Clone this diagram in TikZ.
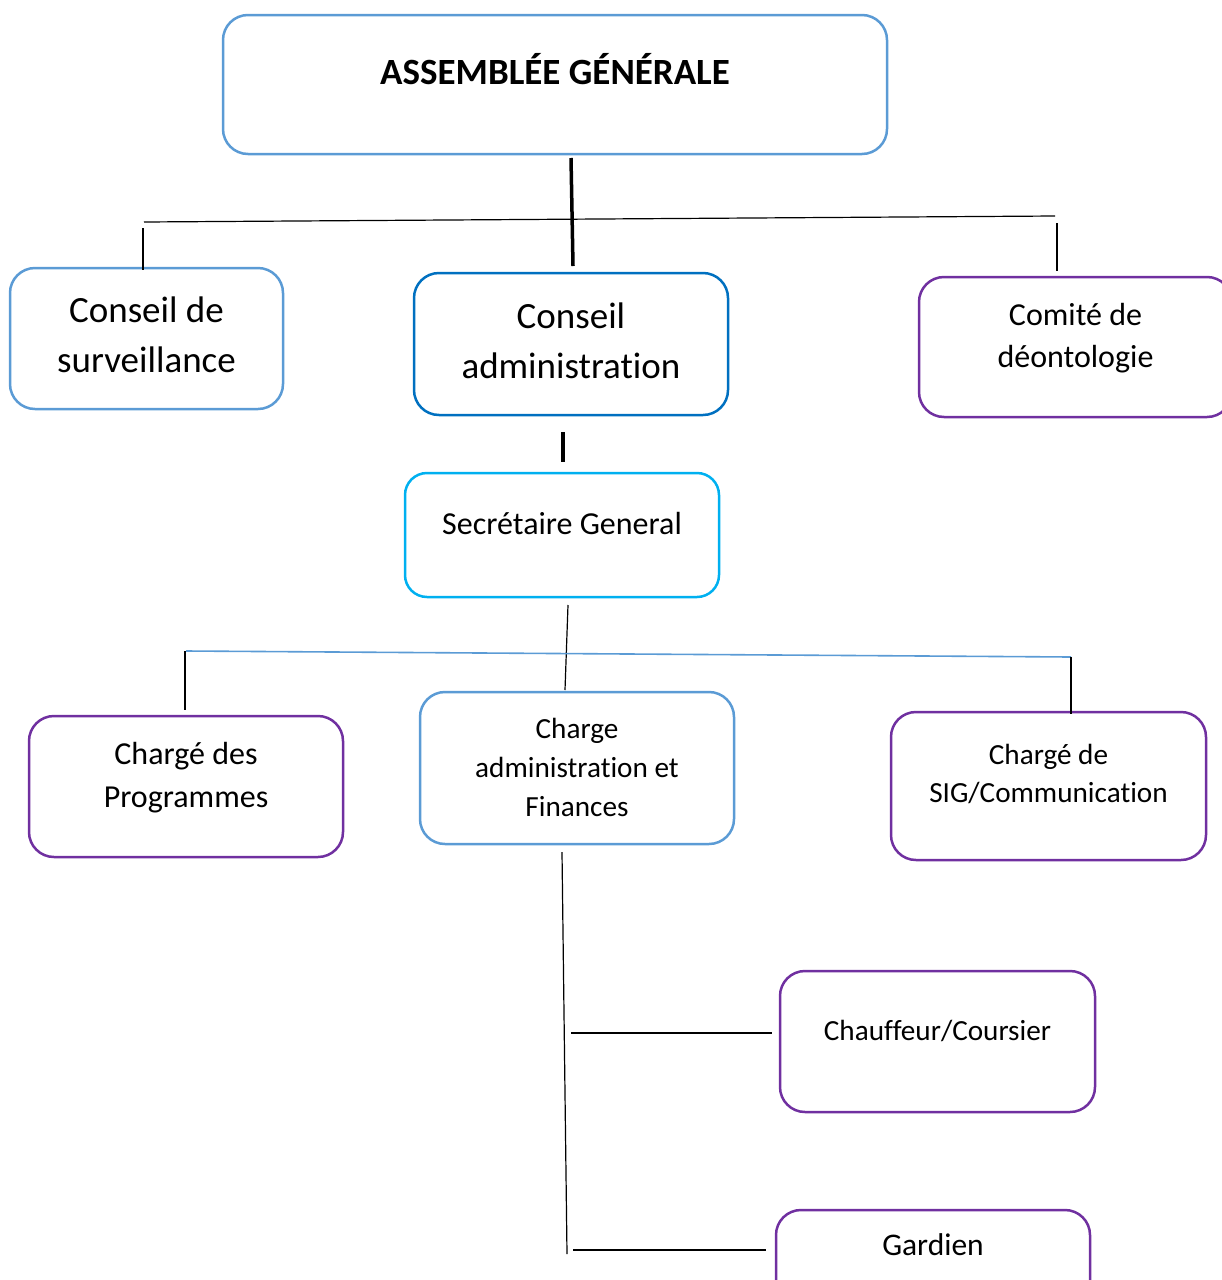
\documentclass[tikz,border=0pt]{standalone}
\usepackage{fontspec}
\setmainfont[Ligatures={NoCommon,NoContextual}]{Carlito}
\usepackage{xcolor}
\usetikzlibrary{positioning}
\definecolor{lightblue}{HTML}{5B9BD5}
\definecolor{darkblue}{HTML}{0070C0}
\definecolor{cyanblue}{HTML}{00B0F0}
\definecolor{orgpurple}{HTML}{7030A0}

\begin{document}
\begin{tikzpicture}[x=1pt, y=-1pt,
    box/.style={draw=#1, line width=2.5pt, rounded corners=25pt, inner sep=0pt},
    txt/.style={align=center, inner sep=0pt, anchor=north},
    link/.style={line width=1.2pt},
    trunk/.style={line width=3.5pt}]
    \useasboundingbox (0,0) rectangle (1222,1280);
    \clip (0,0) rectangle (1222,1280);

    \node[box=lightblue, minimum width=664pt, minimum height=139pt] (ag) at (555,84.5) {};
    \node[box=lightblue, minimum width=273pt, minimum height=141pt] (cs) at (146.5,338.5) {};
    \node[box=darkblue, minimum width=314pt, minimum height=142pt] (ca) at (571,344) {};
    \node[box=orgpurple, minimum width=313pt, minimum height=140pt] (cd) at (1075.5,347) {};
    \node[box=cyanblue, rounded corners=22pt, minimum width=314pt, minimum height=124pt] (sg) at (562,535) {};
    \node[box=orgpurple, minimum width=314pt, minimum height=141pt] (cp) at (186,786.5) {};
    \node[box=lightblue, minimum width=314pt, minimum height=152pt] (caf) at (577,768) {};
    \node[box=orgpurple, minimum width=315pt, minimum height=148pt] (sig) at (1048.5,786) {};
    \node[box=orgpurple, minimum width=315pt, minimum height=141pt] (ch) at (937.5,1041.5) {};
    \node[box=orgpurple, minimum width=314pt, minimum height=140pt] (ga) at (933,1280) {};

    \node[txt, below=39pt of ag.north, font=\fontsize{37}{45}\selectfont\bfseries] (agtext) {ASSEMBLÉE GÉNÉRALE};
    \node[txt, below=30pt of cs.north, font=\fontsize{37}{50}\selectfont] (cstext) {Conseil de\\surveillance};
    \node[txt, below=31pt of ca.north, font=\fontsize{37}{50}\selectfont] (catext) {Conseil\\administration};
    \node[txt, below=27pt of cd.north, font=\fontsize{32}{42}\selectfont] (cdtext) {Comité de\\déontologie};
    \node[txt, below=40pt of sg.north, font=\fontsize{32}{40}\selectfont] (sgtext) {Secrétaire General};
    \node[txt, below=27pt of cp.north, font=\fontsize{32}{43}\selectfont] (cptext) {Chargé des\\Programmes};
    \node[txt, below=27pt of caf.north, font=\fontsize{29.2}{39}\selectfont] (caftext) {Charge\\administration et\\Finances};
    \node[txt, below=33pt of sig.north, font=\fontsize{29.2}{38}\selectfont] (sigtext) {Chargé de\\SIG/Communication};
    \node[txt, below=50pt of ch.north, font=\fontsize{29.2}{36}\selectfont] (chtext) {Chauffeur/Coursier};
    \node[txt, below=25pt of ga.north, font=\fontsize{31.5}{38}\selectfont] (gatext) {Gardien};

    \coordinate (agfoot) at (571,158);
    \coordinate (catop) at (573,266);
    \coordinate (busleft) at (144,222);
    \coordinate (busright) at (1055,216);
    \coordinate (csdrop) at (143,228);
    \coordinate (cstop) at (143,270);
    \coordinate (cddrop) at (1057,223);
    \coordinate (cdtop) at (1057,271);
    \coordinate (stubtop) at (563,432);
    \coordinate (stubfoot) at (563,462);
    \coordinate (sgfoot) at (568,605);
    \coordinate (caftop) at (565,690);
    \coordinate (staffleft) at (186,651);
    \coordinate (staffright) at (1071,657);
    \coordinate (cpdrop) at (185,651);
    \coordinate (cptop) at (185,710);
    \coordinate (sigdrop) at (1071,657);
    \coordinate (sigtop) at (1071,714);
    \coordinate (caffoot) at (562,852);
    \coordinate (spinefoot) at (567,1254);
    \coordinate (chstart) at (571,1033);
    \coordinate (chend) at (772,1033);
    \coordinate (gastart) at (573,1250);
    \coordinate (gaend) at (766,1250);

    \draw[trunk] (agfoot) -- (catop);
    \draw[link] (busleft) -- (busright);
    \draw[link] (csdrop) -- (cstop);
    \draw[link] (cddrop) -- (cdtop);
    \draw[trunk] (stubtop) -- (stubfoot);
    \draw[link] (sgfoot) -- (caftop);
    \draw[link, draw=lightblue, line width=1.6pt] (staffleft) -- (staffright);
    \draw[link] (cpdrop) -- (cptop);
    \draw[link] (sigdrop) -- (sigtop);
    \draw[link] (caffoot) -- (spinefoot);
    \draw[link] (chstart) -- (chend);
    \draw[link] (gastart) -- (gaend);
\end{tikzpicture}
\end{document}
